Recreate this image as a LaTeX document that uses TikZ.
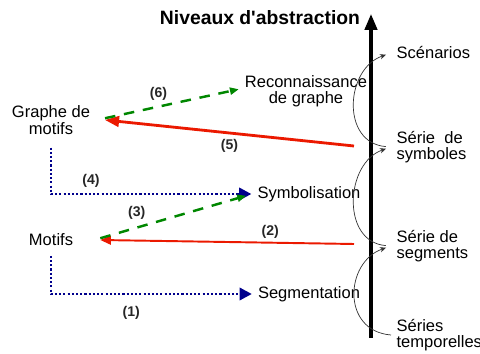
\documentclass[tikz,border=0pt]{standalone}
\usepackage{fontspec}
\setmainfont{Liberation Sans}
\usetikzlibrary{arrows.meta}

\definecolor{rouge}{RGB}{235,25,0}
\definecolor{vert}{RGB}{0,135,0}
\definecolor{marine}{RGB}{0,0,140}

\begin{document}
\begin{tikzpicture}[x=0.02cm,y=-0.02cm,font=\fontsize{9.4}{9.4}\selectfont,
    etiq/.style={font=\bfseries\fontsize{8}{9}\selectfont,text=black!85,inner sep=1pt},
    niv/.style={anchor=west,align=left,inner sep=3pt},
    pointille/.style={marine,line width=1.6pt,dash pattern=on 1.2pt off 1.2pt,-{Triangle[length=7pt,width=7pt]}},
    tirets/.style={vert,line width=1.4pt,dash pattern=on 6pt off 5pt,-{Triangle[length=5pt,width=4pt]}},
    lien/.style={black!80,thin,-{Stealth[length=3.5pt,width=3pt]}}]
%  \draw[help lines] (0,0) grid[step=20] (480,354);
    \useasboundingbox (0,0) rectangle (480,354);
    \path (260,18) node(titre) [font=\bfseries\fontsize{11}{13}\selectfont] {Niveaux d\textquotesingle abstraction}
    (51,120) node(gm) [align=center] {Graphe de\\ motifs}
    (51,240) node(mo) [ ] {Motifs}
    (306,91) node(rg) [align=center] {Reconnaissance\\ de graphe}
    (309,194) node(sy) [ ] {Symbolisation}
    (309,294) node(se) [ ] {Segmentation}
    (391,53) node(sc) [niv] {Sc\'enarios}
    (391,147) node(sb) [niv] {S\'erie \ de\\ symboles}
    (391,246) node(sg) [niv] {S\'erie de\\ segments}
    (391,335) node(st) [niv] {S\'eries\\ temporelles};
    % axe des niveaux
    \coordinate (bas) at (371,338);
    \coordinate (haut) at (371,14);
    \draw[line width=1.8pt,-{Triangle[length=9pt,width=7pt]}] (bas) -- (haut);
    % passages d'un niveau a l'autre
    \draw[lien,shorten >=3pt] (st.west) .. controls +(-50,-4) and +(-46,16) .. (sg.west);
    \draw[lien,shorten >=3pt,shorten <=3pt] (sg.west) .. controls +(-50,-4) and +(-46,16) .. (sb.west);
    \draw[lien,shorten >=3pt,shorten <=3pt] (sb.west) .. controls +(-50,-4) and +(-46,16) .. (sc.west);
    % fleches (1) a (6)
    \coordinate (d2) at (354,244);
    \coordinate (d5) at (354,146);
    \draw[pointille] ([yshift=-2pt]mo.south) |- (se.west) node[etiq,below=5pt,pos=0.7] {(1)};
    \draw[pointille] ([yshift=-4pt]gm.south) |- (sy.west) node[etiq,above=2pt,pos=0.6] {(4)};
    \draw[rouge,line width=1.1pt,-{Triangle[length=6pt,width=5pt]}] (d2) -- ([xshift=12pt]mo.east)
        node[etiq,above=1pt,pos=0.33] {(2)};
    \draw[rouge,line width=1.6pt,-{Triangle[length=8pt,width=6pt]}] (d5) -- ([xshift=5pt,yshift=0pt]gm.east)
        node[etiq,below=2pt,pos=0.5] {(5)};
    \draw[tirets] ([xshift=12pt,yshift=1pt]mo.east) -- ([xshift=-3pt,yshift=-1pt]sy.west)
        node[etiq,above=3pt,pos=0.25] {(3)};
    \draw[tirets] ([xshift=5pt,yshift=1pt]gm.east) -- ([yshift=1pt]rg.west)
        node[etiq,above=2pt,pos=0.4] {(6)};
  \end{tikzpicture}
\end{document}
